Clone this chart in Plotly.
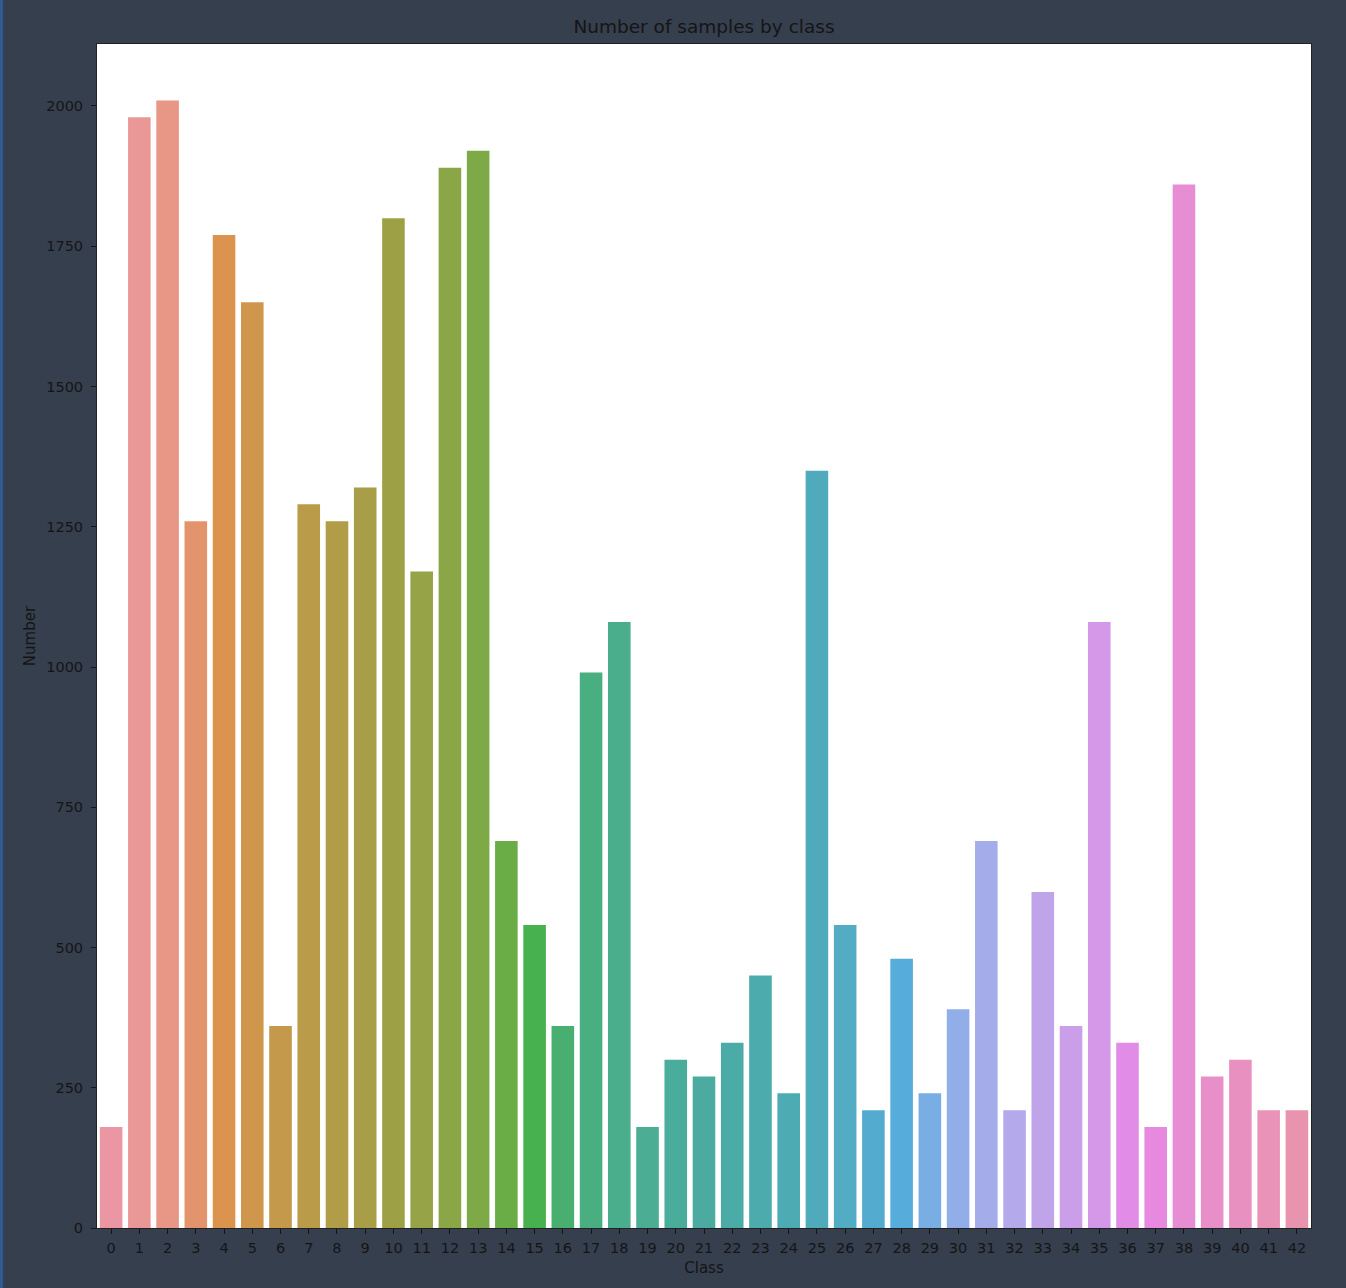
import math
import colorsys
import plotly.graph_objects as go

# ---- data ----
classes = [str(i) for i in range(43)]
counts = [180, 1980, 2010, 1260, 1770, 1650, 360, 1290, 1260, 1320,
          1800, 1170, 1890, 1920, 690, 540, 360, 990, 1080, 180,
          300, 270, 330, 450, 240, 1350, 540, 210, 480, 240,
          390, 690, 210, 599, 360, 1080, 330, 180, 1860, 270,
          300, 210, 210]
y_ticks = [0, 250, 500, 750, 1000, 1250, 1500, 1750, 2000]

# ---- husl palette (seaborn style) ----
M = [[3.240969941904521, -1.537383177570093, -0.498610760293],
     [-0.96924363628087, 1.87596750150772, 0.041555057407175],
     [0.055630079696993, -0.20397695888897, 1.056971514242878]]
refY = 1.0
refU = 0.19783000664283
refV = 0.46831999493879
kappa = 903.2962962
epsilon = 0.0088564516


def max_chroma(L, H):
    hrad = math.radians(H)
    sinH, cosH = math.sin(hrad), math.cos(hrad)
    sub1 = (L + 16) ** 3 / 1560896.0
    sub2 = sub1 if sub1 > epsilon else L / kappa
    result = float("inf")
    for m1, m2, m3 in M:
        top = (0.99915 * m1 + 1.05122 * m2 + 1.14460 * m3) * sub2
        rbottom = 0.86330 * m3 - 0.17266 * m2
        lbottom = 0.12949 * m3 - 0.38848 * m1
        bottom = (rbottom * sinH + lbottom * cosH) * sub2
        for t in (0.0, 1.0):
            C = L * (top - 1.05122 * t) / (bottom + 0.17266 * sinH * t)
            if 0.0 < C < result:
                result = C
    return result


def f_inv(t):
    if t ** 3 > epsilon:
        return refY * t ** 3
    return refY * (116 * t - 16) / kappa


def from_linear(c):
    if c <= 0.0031308:
        return 12.92 * c
    return 1.055 * c ** (1 / 2.4) - 0.055


def husl_to_rgb(H, S, L):
    C = max_chroma(L, H) / 100.0 * S
    hrad = math.radians(H)
    U, V = math.cos(hrad) * C, math.sin(hrad) * C
    varY = f_inv((L + 16) / 116.0)
    varU = U / (13 * L) + refU
    varV = V / (13 * L) + refV
    Y = varY * refY
    X = 0 - (9 * Y * varU) / ((varU - 4.0) * varV - varU * varV)
    Z = (9 * Y - (15 * varV * Y) - (varV * X)) / (3.0 * varV)
    return [from_linear(r[0] * X + r[1] * Y + r[2] * Z) for r in M]


def husl_palette(n, h=0.01, s=0.9, l=0.7):
    cols = []
    for i in range(n):
        hue = ((i / n) + h) % 1 * 359
        rgb = [min(max(c, 0), 1) for c in husl_to_rgb(hue, s * 99, l * 99)]
        hh, ll, ss = colorsys.rgb_to_hls(*rgb)
        rgb = colorsys.hls_to_rgb(hh, ll, ss * 0.75)
        cols.append("rgb(%d,%d,%d)" % tuple(round(c * 255) for c in rgb))
    return cols


colors = husl_palette(len(classes))

BG = "#363f4e"
TXT = "#151515"
FONT = "DejaVu Sans"

fig = go.Figure(go.Bar(x=classes, y=counts, marker=dict(color=colors, line=dict(width=0)),
                       width=0.8))

fig.update_layout(
    width=1346, height=1288,
    margin=dict(l=97, r=35, t=44, b=60),
    paper_bgcolor=BG, plot_bgcolor="white",
    font=dict(family=FONT, size=14.5, color=TXT),
    title=dict(text="Number of samples by class", x=(97 + 1311) / 2 / 1346, xanchor="center",
               y=1 - 27 / 1288, yanchor="middle", font=dict(size=18.5, color=TXT)),
    showlegend=False,
    xaxis=dict(type="category", range=[-0.5, 42.5], showgrid=False, zeroline=False,
               ticks="outside", ticklen=5, tickcolor=TXT, showline=True, linecolor="#222",
               linewidth=1, mirror=True, ticklabelstandoff=2,
               title=dict(text="Class", standoff=7, font=dict(size=15, color=TXT))),
    yaxis=dict(range=[0, 2110.5], tickvals=y_ticks, showgrid=False, zeroline=False,
               ticks="outside", ticklen=5, tickcolor=TXT, showline=True, linecolor="#222",
               linewidth=1, mirror=True, ticklabelstandoff=5,
               title=dict(text="Number", standoff=6, font=dict(size=15, color=TXT))),
    shapes=[dict(type="rect", xref="paper", yref="paper",
                 x0=-97 / 1214, x1=-94 / 1214, y0=-60 / 1184, y1=1 + 44 / 1184,
                 fillcolor="#2f5a94", line=dict(width=0), layer="below")],
)

fig.write_html("out.html")
